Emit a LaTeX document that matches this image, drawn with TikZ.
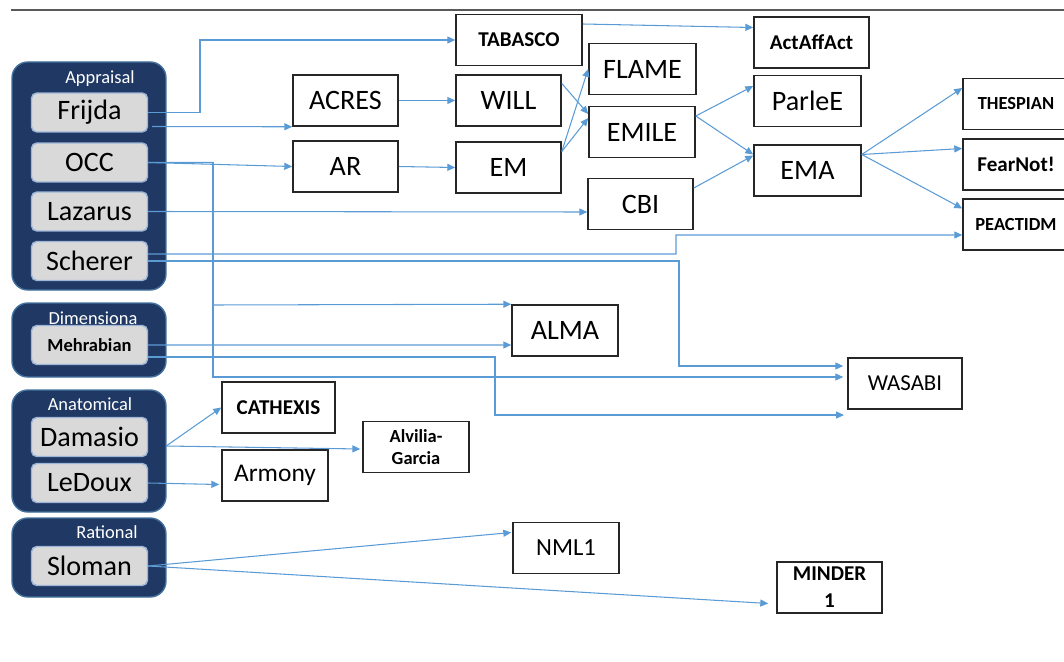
\documentclass[tikz,border=0pt]{standalone}
\usepackage{fontspec}
\setmainfont{Carlito}
\usetikzlibrary{arrows.meta,calc}

\definecolor{navy}{HTML}{203864}
\definecolor{navyedge}{HTML}{41719C}
\definecolor{itemgray}{HTML}{D9D9D9}
\definecolor{itemedge}{HTML}{9DB5D6}
\definecolor{linkblue}{HTML}{5B9BD5}

\tikzset{
  grp/.style={fill=navy, draw=navyedge, line width=0.8pt, rounded corners=9pt, minimum width=3.08cm, inner sep=0pt},
  grplabel/.style={text=white, font=\fontsize{10.5}{12}\selectfont, inner sep=0pt},
  item/.style={fill=itemgray, draw=itemedge, line width=0.8pt, rounded corners=3pt, minimum width=2.32cm, minimum height=0.78cm, inner sep=0pt, font=\fontsize{16}{19}\selectfont},
  model/.style={draw=black!85, line width=0.9pt, fill=white, minimum width=2.12cm, minimum height=1.02cm, inner sep=0pt, align=center, font=\fontsize{16}{19}\selectfont},
  bmodel/.style={model, font=\bfseries\fontsize{12}{15}\selectfont},
  conn/.style={draw=linkblue, line width=0.6pt, -{Triangle[length=4.5pt,width=4pt]}},
}

\begin{document}
\begin{tikzpicture}[x=0.02cm, y=-0.02cm]
    \useasboundingbox (0,0) rectangle (1064,662);
    \clip (0,0) rectangle (1064,662);

    % rule at the top
    \draw[black!65, line width=1pt] (11,10) -- (1064,10);

    % theory groups: name / centre y / height / label / label x / label y
    \foreach \n/\y/\h/\t/\lx/\ly in {appraisal/176/228/Appraisal/100/79,
        dimensional/340/74/Dimensiona/93/318,
        anatomical/451/122/Anatomical/90/404,
        rational/557.5/79/Rational/107/532} {
        \node[grp, minimum height=\h*0.02cm] (\n) at (89,\y) {};
        \node[grplabel] (\n-lbl) at (\lx,\ly) {\t};
    }

    % theories
    \foreach \n/\y/\t in {frijda/112.5/Frijda, occ/162.5/OCC, lazarus/211.5/Lazarus,
        scherer/261/Scherer, damasio/437/Damasio, ledoux/483/LeDoux, sloman/566/Sloman} {
        \node[item] (\n) at (89.5,\y) {\t};
    }
    \node[item, font=\bfseries\fontsize{10.5}{12}\selectfont] (mehrabian) at (89.5,345) {Mehrabian};

    % models: name / x / y / width / text
    \foreach \n/\x/\y/\w/\t in {acres/345.5/100.5/105/ACRES, will/508.5/100.5/105/WILL,
        ar/345.5/166.5/105/AR, em/508.5/167.5/105/EM, flame/642.5/69/107/FLAME,
        emile/642/132/106/EMILE, cbi/640.5/204/105/CBI, parlee/807.5/101/107/ParleE,
        ema/807.5/170.5/107/EMA, alma/565/330.5/106/ALMA} {
        \node[model, minimum width=\w*0.02cm] (\n) at (\x,\y) {\t};
    }
    \foreach \n/\x/\y/\w/\t in {tabasco/519/40/126/TABASCO, actaffact/811.5/42.5/115/ActAffAct,
        fearnot/1016/164.5/106/FearNot!, cathexis/278.5/407.5/113/CATHEXIS} {
        \node[bmodel, minimum width=\w*0.02cm] (\n) at (\x,\y) {\t};
    }
    \node[bmodel, font=\bfseries\fontsize{10.5}{12}\selectfont] (thespian) at (1016,104) {THESPIAN};
    \node[bmodel, font=\bfseries\fontsize{10.5}{12}\selectfont] (peactidm) at (1016,224.5) {PEACTIDM};
    \node[model, minimum width=2.28cm, font=\fontsize{13}{16}\selectfont] (wasabi) at (905,383.5) {WASABI};
    \node[bmodel, font=\bfseries\fontsize{10.5}{12.5}\selectfont] (alvilia) at (416,447) {Alvilia-\\Garcia};
    \node[model, font=\fontsize{14.5}{17}\selectfont] (armony) at (275,475.5) {Armony};
    \node[model, font=\fontsize{14}{17}\selectfont] (nml) at (566,548) {NML1};
    \node[bmodel, minimum width=2.1cm, font=\bfseries\fontsize{12}{15.3}\selectfont] (minder) at (829.5,587.5) {MINDER\\1};

    % appraisal links
    \draw[conn] (frijda.east) -| (200,40) -- (tabasco.west);
    \draw[conn] ($(frijda.east)+(4,14)$) -- (acres.south west);
    \draw[conn] (occ.east) -- (ar.west);
    \draw[conn] (occ.east) -| (213,305) -- (alma.north west);
    \draw[conn] (occ.east) -| (213,377) -- ($(wasabi.west)+(-4,-6.5)$);
    \draw[conn] (lazarus.east) -- ($(cbi.west)+(0,8)$);
    \draw[conn] ($(scherer.east)+(0,-7)$) -| (676,235) -- ($(peactidm.west)+(0,10.5)$);
    \draw[conn] (scherer.east) -| (679,366) -- ($(wasabi.west)+(-4,-17.5)$);

    % dimensional links
    \draw[conn] (mehrabian.east) -- ($(alma.west)+(0,14.5)$);
    \coordinate (wasabilow) at (844,415);
    \draw[conn] ($(mehrabian.east)+(0,12)$) -| (495,415) -- (wasabilow);

    % anatomical links
    \draw[conn] ($(damasio.east)+(18,9)$) -- (cathexis.west);
    \draw[conn] ($(damasio.east)+(18,9)$) -- ($(alvilia.west)+(-2,2)$);
    \draw[conn] (ledoux.east) -- ($(armony.west)+(-2,9)$);

    % rational links
    \draw[conn] (sloman.east) -- ($(nml.west)+(-1,-15.5)$);
    \draw[conn] (sloman.east) -- ($(minder.west)+(-8,16)$);

    % model lineage
    \draw[conn] (acres.east) -- (will.west);
    \draw[conn] (ar.east) -- (em.west);
    \draw[conn] ($(will.east)+(0,-17)$) -- ($(emile.west)+(0,-18)$);
    \draw[conn] ($(em.east)+(0,-16)$) -- (flame.west);
    \draw[conn] ($(em.east)+(0,-16)$) -- ($(emile.west)+(0,-14)$);
    \draw[conn] ($(tabasco.east)+(0,-16)$) -- ($(actaffact.west)+(0,-15)$);
    \draw[conn] ($(emile.east)+(0,-16)$) -- ($(parlee.west)+(0,-15)$);
    \draw[conn] ($(emile.east)+(0,-16)$) -- ($(ema.west)+(0,-16)$);
    \draw[conn] ($(cbi.east)+(0,-16)$) -- ($(ema.west)+(0,-15)$);
    \foreach \t in {thespian, fearnot, peactidm}
        \draw[conn] ($(ema.east)+(0,-16)$) -- ($(\t.west)+(0,-16)$);
\end{tikzpicture}
\end{document}
